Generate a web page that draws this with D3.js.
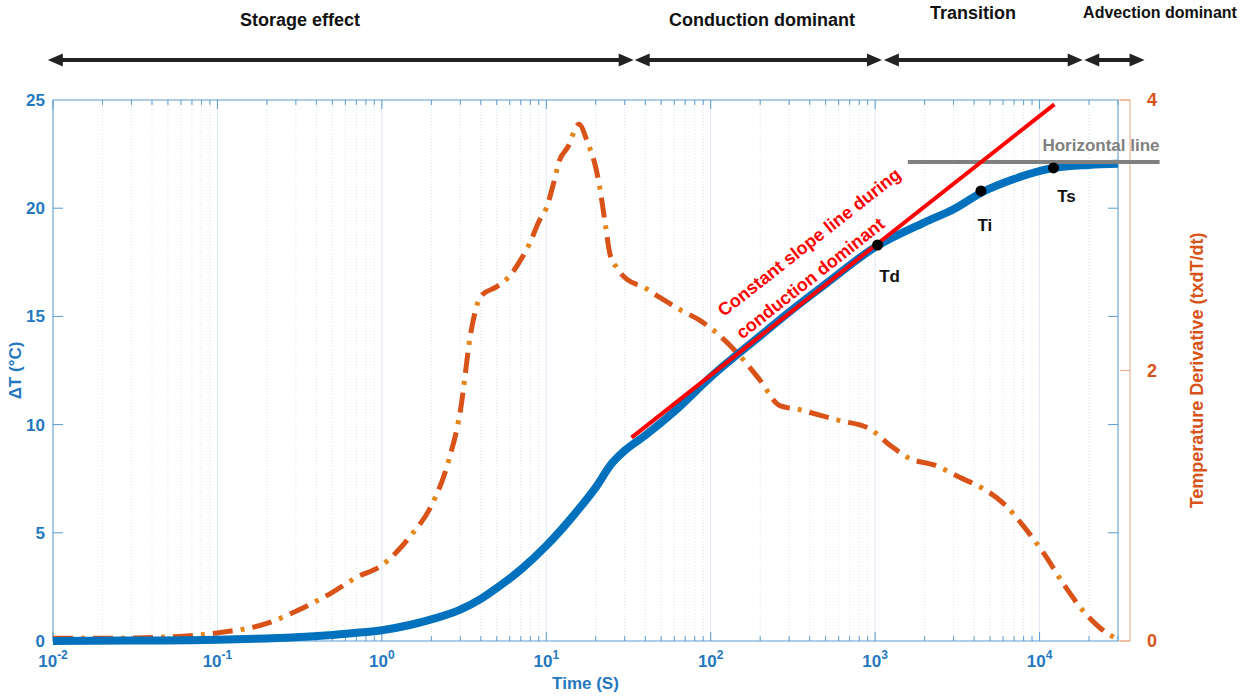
<!DOCTYPE html>
<html>
<head>
<meta charset="utf-8">
<script src="https://cdn.jsdelivr.net/npm/d3@7"></script>
<style>
  html, body { margin: 0; padding: 0; background: #ffffff; }
  svg text { font-family: "Liberation Sans", Arial, sans-serif; font-weight: bold; }
</style>
</head>
<body>
<div id="chart"></div>
<script>
// Time (s) and temperature rise (left axis)
const timeBlue = [0.01, 0.03, 0.1, 0.2, 0.3, 0.5, 0.7, 1, 1.5, 2, 3, 4, 5, 7, 10, 15, 20, 25, 30, 40, 60, 100, 200, 300, 500, 1000, 2000, 3000, 4500, 7000, 12000, 20000, 30000];
const deltaT   = [0, 0.02, 0.06, 0.12, 0.17, 0.28, 0.38, 0.5, 0.75, 1.0, 1.45, 1.95, 2.45, 3.3, 4.4, 5.9, 7.1, 8.2, 8.8, 9.5, 10.6, 12.2, 14.1, 15.2, 16.5, 18.2, 19.35, 19.95, 20.75, 21.35, 21.85, 22.0, 22.05];

// Temperature derivative (right axis)
const timeDeriv = [0.01, 0.02, 0.05, 0.1, 0.2, 0.3, 0.5, 0.7, 1, 1.5, 2, 2.5, 3, 3.5, 4, 5, 6, 7, 8, 9, 10, 11, 12, 13.5, 15.8, 17.9, 20, 21.1, 23, 24.3, 26.8, 31.3, 38.6, 49, 65, 86, 113, 150, 199, 263, 348, 460, 608, 926, 1225, 1622, 2300, 3266, 4634, 6125, 8100, 10720, 14190, 18780, 23170, 30000];
const derivative = [0.02, 0.02, 0.03, 0.06, 0.13, 0.22, 0.36, 0.47, 0.56, 0.78, 1.0, 1.3, 1.7, 2.3, 2.55, 2.62, 2.7, 2.82, 2.95, 3.1, 3.2, 3.37, 3.55, 3.65, 3.82, 3.68, 3.5, 3.36, 3.06, 2.87, 2.76, 2.67, 2.62, 2.54, 2.45, 2.37, 2.26, 2.11, 1.93, 1.74, 1.71, 1.67, 1.63, 1.57, 1.45, 1.35, 1.30, 1.21, 1.12, 1.01, 0.84, 0.64, 0.41, 0.21, 0.10, 0.01];

// Constant slope line and horizontal line (time, deltaT)
const slopeTime = [33, 12300];
const slopeDT = [9.4, 24.8];
const horizTime = [1580, 53700];
const horizDT = [22.13, 22.13];

// Marked points
const markNames = ['Td', 'Ti', 'Ts'];
const markTime = [1035, 4400, 12160];
const markDT = [18.3, 20.8, 21.86];

// Regime arrows along the top
const phaseNames = ['Storage effect', 'Conduction dominant', 'Transition', 'Advection dominant'];
const phaseStart = [0.0093, 34.5, 1130, 18700];
const phaseEnd = [34.0, 1100, 18300, 43500];

const leftTicks = [0, 5, 10, 15, 20, 25];
const rightTicks = [0, 2, 4];

const width = 1248, height = 697;
const m = { left: 53, right: 1118, top: 100, bottom: 641 };

const BLUE = '#0072BD';
const BLUE_TXT = '#2578c0';
const ORANGE = '#D95319';

const x = d3.scaleLog().domain([0.01, 30000]).range([m.left, m.right]);
const yL = d3.scaleLinear().domain([0, 25]).range([m.bottom, m.top]);
const yR = d3.scaleLinear().domain([0, 4]).range([m.bottom, m.top]);

const svg = d3.select('#chart').append('svg')
  .attr('width', width)
  .attr('height', height)
  .style('background', '#ffffff');

// Tick values on log axis
const majorX = d3.range(-2, 5).map(e => Math.pow(10, e));
const minorX = [];
majorX.forEach(d => {
  for (let k = 2; k <= 9; k++) {
    const v = d * k;
    if (v <= 30000) minorX.push(v);
  }
});

// Grid
const grid = svg.append('g');
grid.selectAll('line.minor')
  .data(minorX)
  .enter().append('line')
  .attr('x1', d => x(d)).attr('x2', d => x(d))
  .attr('y1', m.top).attr('y2', m.bottom)
  .attr('stroke', '#d6dde6')
  .attr('stroke-width', 0.8)
  .attr('stroke-dasharray', '1,2');
grid.selectAll('line.major')
  .data(majorX)
  .enter().append('line')
  .attr('x1', d => x(d)).attr('x2', d => x(d))
  .attr('y1', m.top).attr('y2', m.bottom)
  .attr('stroke', '#dfe8f1')
  .attr('stroke-width', 1);

// Box and ticks
const axes = svg.append('g');
axes.append('rect')
  .attr('x', m.left).attr('y', m.top)
  .attr('width', m.right - m.left).attr('height', m.bottom - m.top)
  .attr('fill', 'none')
  .attr('stroke', '#5b9bd1')
  .attr('stroke-width', 1);

const xTicks = majorX.map(v => ({ v, len: 9 })).concat(minorX.map(v => ({ v, len: 5 })));
axes.selectAll('line.xb')
  .data(xTicks)
  .enter().append('line')
  .attr('x1', d => x(d.v)).attr('x2', d => x(d.v))
  .attr('y1', m.bottom).attr('y2', d => m.bottom - d.len)
  .attr('stroke', '#5b9bd1');
axes.selectAll('line.xt')
  .data(xTicks)
  .enter().append('line')
  .attr('x1', d => x(d.v)).attr('x2', d => x(d.v))
  .attr('y1', m.top).attr('y2', d => m.top + d.len)
  .attr('stroke', '#5b9bd1');

// x tick labels 10^n
majorX.forEach(v => {
  const e = Math.round(Math.log10(v));
  const t = axes.append('text')
    .attr('x', x(v))
    .attr('y', 667)
    .attr('text-anchor', 'middle')
    .attr('fill', BLUE_TXT)
    .attr('font-size', 17);
  t.append('tspan').text('10');
  t.append('tspan').attr('dy', -8).attr('font-size', 12).text(String(e));
});

// left axis ticks and labels
const innerLeft = leftTicks.filter(d => d > 0 && d < 25);
axes.selectAll('line.yl')
  .data(innerLeft)
  .enter().append('line')
  .attr('x1', m.left).attr('x2', m.left + 10)
  .attr('y1', d => yL(d)).attr('y2', d => yL(d))
  .attr('stroke', '#5b9bd1');
axes.selectAll('line.yr')
  .data(innerLeft)
  .enter().append('line')
  .attr('x1', m.right).attr('x2', m.right - 10)
  .attr('y1', d => yL(d)).attr('y2', d => yL(d))
  .attr('stroke', '#5b9bd1');
axes.selectAll('text.yl')
  .data(leftTicks)
  .enter().append('text')
  .attr('x', m.left - 8)
  .attr('y', d => yL(d) + 6)
  .attr('text-anchor', 'end')
  .attr('fill', BLUE_TXT)
  .attr('font-size', 17)
  .text(d => d);

// right (orange) axis
const rX = m.right + 12;
axes.append('path')
  .attr('d', `M${m.right},${m.top}H${rX}V${m.bottom}H${m.right}`)
  .attr('fill', 'none')
  .attr('stroke', '#e7a784')
  .attr('stroke-width', 1);
axes.selectAll('line.r')
  .data(rightTicks)
  .enter().append('line')
  .attr('x1', rX).attr('x2', rX - 10)
  .attr('y1', d => yR(d)).attr('y2', d => yR(d))
  .attr('stroke', '#e7a784');
axes.selectAll('text.r')
  .data(rightTicks)
  .enter().append('text')
  .attr('x', rX + 17)
  .attr('y', d => yR(d) + 6)
  .attr('fill', ORANGE)
  .attr('font-size', 18)
  .text(d => d);

// axis titles
svg.append('text')
  .attr('transform', `translate(21,${(m.top + m.bottom) / 2}) rotate(-90)`)
  .attr('text-anchor', 'middle')
  .attr('fill', BLUE_TXT)
  .attr('font-size', 17)
  .text('ΔT (°C)');
svg.append('text')
  .attr('x', (m.left + m.right) / 2)
  .attr('y', 689)
  .attr('text-anchor', 'middle')
  .attr('fill', BLUE_TXT)
  .attr('font-size', 17)
  .text('Time (S)');
svg.append('text')
  .attr('transform', `translate(1203,${(m.top + m.bottom) / 2}) rotate(-90)`)
  .attr('text-anchor', 'middle')
  .attr('fill', ORANGE)
  .attr('font-size', 18)
  .text('Temperature Derivative (txdT/dt)');

// Derivative curve (dash-dot)
const derivLine = d3.line()
  .x(i => x(timeDeriv[i]))
  .y(i => yR(derivative[i]))
  .curve(d3.curveMonotoneX);
const derivIdx = d3.range(timeDeriv.length);
svg.append('path')
  .attr('d', derivLine(derivIdx))
  .attr('fill', 'none')
  .attr('stroke', ORANGE)
  .attr('stroke-width', 5)
  .attr('stroke-dasharray', '20 20');
svg.append('path')
  .attr('d', derivLine(derivIdx))
  .attr('fill', 'none')
  .attr('stroke', '#e5861d')
  .attr('stroke-width', 5)
  .attr('stroke-dasharray', '0 28 4 8');

// Temperature curve
const tLine = d3.line()
  .x(i => x(timeBlue[i]))
  .y(i => yL(deltaT[i]))
  .curve(d3.curveMonotoneX);
svg.append('path')
  .attr('d', tLine(d3.range(timeBlue.length)))
  .attr('fill', 'none')
  .attr('stroke', BLUE)
  .attr('stroke-width', 8)
  .attr('stroke-linejoin', 'round');

// Horizontal line
svg.append('line')
  .attr('x1', x(horizTime[0])).attr('x2', x(horizTime[1]))
  .attr('y1', yL(horizDT[0])).attr('y2', yL(horizDT[1]))
  .attr('stroke', '#808080')
  .attr('stroke-width', 4);
svg.append('text')
  .attr('x', x(horizTime[1]))
  .attr('y', yL(horizDT[0]) - 11)
  .attr('text-anchor', 'end')
  .attr('fill', '#808080')
  .attr('font-size', 17)
  .text('Horizontal line');

// Constant slope line
const sx1 = x(slopeTime[0]), sy1 = yL(slopeDT[0]);
const sx2 = x(slopeTime[1]), sy2 = yL(slopeDT[1]);
svg.append('line')
  .attr('x1', sx1).attr('y1', sy1)
  .attr('x2', sx2).attr('y2', sy2)
  .attr('stroke', '#ff0000')
  .attr('stroke-width', 4);
const ang = Math.atan2(sy2 - sy1, sx2 - sx1) * 180 / Math.PI;
[['Constant slope line during', 813, 247], ['conduction dominant', 814, 283]].forEach(([txt, cx, cy]) => {
  svg.append('text')
    .attr('transform', `translate(${cx},${cy}) rotate(${ang})`)
    .attr('text-anchor', 'middle')
    .attr('fill', '#ff0000')
    .attr('font-size', 18)
    .text(txt);
});

// Marked points
const labelOffset = [[12, 37], [4, 40], [13, 34]];
markNames.forEach((name, i) => {
  const px = x(markTime[i]), py = yL(markDT[i]);
  svg.append('circle')
    .attr('cx', px).attr('cy', py)
    .attr('r', 5.5)
    .attr('fill', '#000000');
  svg.append('text')
    .attr('x', px + labelOffset[i][0])
    .attr('y', py + labelOffset[i][1])
    .attr('text-anchor', 'middle')
    .attr('fill', '#111111')
    .attr('font-size', 17)
    .text(name);
});

// Regime arrows
const arrowY = 60;
const head = 15, half = 6.5;
const phaseLabelY = [26, 26, 19, 18];
const phaseLabelX = [300, 762, 973, 1160];
const phaseFont = [18, 18, 18, 16];
phaseNames.forEach((name, i) => {
  const a = x(phaseStart[i]), b = x(phaseEnd[i]);
  svg.append('line')
    .attr('x1', a + head - 2).attr('x2', b - head + 2)
    .attr('y1', arrowY).attr('y2', arrowY)
    .attr('stroke', '#222222')
    .attr('stroke-width', 4);
  svg.append('path')
    .attr('d', `M${a},${arrowY}L${a + head},${arrowY - half}L${a + head},${arrowY + half}Z`)
    .attr('fill', '#222222');
  svg.append('path')
    .attr('d', `M${b},${arrowY}L${b - head},${arrowY - half}L${b - head},${arrowY + half}Z`)
    .attr('fill', '#222222');
  svg.append('text')
    .attr('x', phaseLabelX[i])
    .attr('y', phaseLabelY[i])
    .attr('text-anchor', 'middle')
    .attr('fill', '#111111')
    .attr('font-size', phaseFont[i])
    .text(name);
});
</script>
</body>
</html>
